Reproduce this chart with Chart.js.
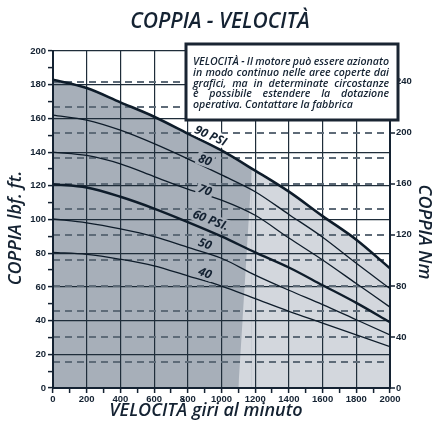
<!DOCTYPE html>
<html lang="it">
<head>
<meta charset="UTF-8">
<title>Coppia - Velocità</title>
<script src="https://cdn.jsdelivr.net/npm/chart.js"></script>
<style>
  html, body { margin: 0; padding: 0; background: #fff; }
</style>
</head>
<body>
<canvas id="grafico" width="433" height="426"></canvas>
<script>
// giri al minuto e coppia (lbf.ft)
var giri   = [0, 200, 400, 600, 800, 1000, 1200, 1400, 1600, 1800, 2000];
var psi90  = [183, 178, 169.5, 161, 151, 141, 129, 116.5, 102, 88, 71];
var psi80  = [162, 159, 153, 145, 136, 126.5, 116.5, 103, 89.5, 74, 59];
var psi70  = [140, 138, 133, 125.5, 118, 111.5, 102.5, 89, 76, 62, 48];
var psi60  = [121, 119, 113.5, 106.5, 98.5, 90, 80.5, 71.5, 61, 50.5, 39];
var psi50  = [100.3, 98, 94.4, 89.8, 83.5, 77, 67, 58, 49.5, 40.5, 31.5];
var psi40  = [80.5, 79.3, 76.4, 72.5, 66.5, 60.5, 53, 45.5, 38.5, 31.5, 24.5];

// zona scura (servizio continuo): bordo inclinato tra 1100 e 1180 giri
var zonaGiri   = [0, 200, 400, 600, 800, 1000, 1180];
var zonaCoppia = [183, 178, 169.5, 161, 151, 141, 130];
var bordoGiri   = [1100, 1180];
var bordoCoppia = [0, 130];

var etichette = ['90 PSI', '80', '70', '60 PSI.', '50', '40'];
var testoNota = [
    'VELOCITÀ - Il motore può essere azionato',
    'in modo continuo nelle aree coperte dai',
    'grafici, ma in determinate circostanze',
    'è possibile estendere la dotazione',
    'operativa. Contattare la fabbrica'
];

var scuro = '#142232';
var grigioScuro = '#a7afb9';
var grigioChiaro = '#d3d7dd';

function punti(xs, ys) {
    return xs.map(function (x, i) { return { x: x, y: ys[i] }; });
}

function curva(ys, spessore) {
    return {
        data: punti(giri, ys),
        borderColor: '#0e1c2a',
        borderWidth: spessore,
        pointRadius: 0,
        fill: false,
        cubicInterpolationMode: 'monotone'
    };
}

var fontTick = { family: 'Liberation Sans', size: 9.5, weight: 'bold' };

// testi, nota e etichette delle curve
var testi = {
    id: 'testi',
    afterDatasetsDraw: function (chart) {
        var ctx = chart.ctx;
        var sx = chart.scales.x, sy = chart.scales.y;
        // ancoraggi delle etichette [giri, coppia, angolo, sfondo]
        var pos = [
            [936, 149.7, 24, '#ffffff'],
            [902, 135.3, 20, grigioScuro],
            [902, 117.5, 20, grigioScuro],
            [936, 99.6, 21, grigioScuro],
            [902, 85.5, 20, grigioScuro],
            [902, 68.2, 20, grigioScuro]
        ];
        ctx.save();
        ctx.font = 'italic 700 12px "Open Sans"';
        ctx.textAlign = 'center';
        ctx.textBaseline = 'middle';
        etichette.forEach(function (t, i) {
            var p = pos[i];
            ctx.save();
            ctx.translate(sx.getPixelForValue(p[0]), sy.getPixelForValue(p[1]));
            ctx.rotate(p[2] * Math.PI / 180);
            var w = ctx.measureText(t).width;
            ctx.fillStyle = p[3];
            ctx.fillRect(-w / 2 - 2, -6.5, w + 4, 13);
            ctx.fillStyle = scuro;
            ctx.fillText(t, 0, 0.5);
            ctx.restore();
        });

        // riquadro nota
        ctx.fillStyle = '#ffffff';
        ctx.fillRect(186, 44, 212, 76);
        ctx.lineWidth = 3;
        ctx.strokeStyle = '#1a2532';
        ctx.strokeRect(186, 44, 212, 76);
        ctx.fillStyle = scuro;
        ctx.font = 'italic 600 10.6px "Open Sans"';
        ctx.textAlign = 'left';
        var x0 = 193, larg = 196;
        var righe = [61.5, 72.5, 83.5, 94, 105];
        testoNota.forEach(function (riga, i) {
            var parole = riga.split(' ');
            if (i === testoNota.length - 1) {
                ctx.fillText(riga, x0, righe[i]);
                return;
            }
            var tot = 0;
            parole.forEach(function (p) { tot += ctx.measureText(p).width; });
            var spazio = (larg - tot) / (parole.length - 1);
            var x = x0;
            parole.forEach(function (p) {
                ctx.fillText(p, x, righe[i]);
                x += ctx.measureText(p).width + spazio;
            });
        });
        ctx.restore();
    },
    afterDraw: function (chart) {
        var ctx = chart.ctx;
        ctx.save();
        ctx.fillStyle = scuro;
        ctx.textAlign = 'center';
        ctx.textBaseline = 'middle';
        ctx.font = 'italic 600 21px "Open Sans"';
        ctx.fillText('COPPIA - VELOCITÀ', 220, 22);
        ctx.font = 'italic 600 18px "Open Sans"';
        ctx.fillText('VELOCITÀ giri al minuto', 206, 411);
        ctx.save();
        ctx.translate(16, 228);
        ctx.rotate(-Math.PI / 2);
        ctx.fillText('COPPIA lbf. ft.', 0, 0);
        ctx.restore();
        ctx.save();
        ctx.translate(424, 232);
        ctx.rotate(Math.PI / 2);
        ctx.fillText('COPPIA Nm', 0, 0);
        ctx.restore();
        ctx.restore();
    }
};

new Chart(document.getElementById('grafico'), {
    type: 'line',
    data: {
        datasets: [
            {
                data: punti(bordoGiri, bordoCoppia),
                borderWidth: 0, pointRadius: 0, tension: 0,
                fill: 'origin', backgroundColor: grigioChiaro
            },
            {
                data: punti(zonaGiri, zonaCoppia),
                borderWidth: 0, pointRadius: 0, tension: 0,
                fill: 'origin', backgroundColor: grigioScuro
            },
            Object.assign(curva(psi90, 2.6), { fill: 'origin', backgroundColor: grigioChiaro }),
            curva(psi80, 1.3),
            curva(psi70, 1.3),
            curva(psi60, 2.4),
            curva(psi50, 1.3),
            curva(psi40, 1.3)
        ]
    },
    options: {
        responsive: false,
        animation: false,
        devicePixelRatio: 1,
        layout: { padding: { top: 51, left: 0, right: 0, bottom: 0 } },
        plugins: {
            legend: { display: false },
            tooltip: { enabled: false },
            filler: { drawTime: 'beforeDraw' }
        },
        scales: {
            x: {
                type: 'linear', min: 0, max: 2000,
                ticks: {
                    stepSize: 100, autoSkip: false, maxRotation: 0, padding: 1,
                    color: scuro, font: fontTick,
                    callback: function (v) { return v % 200 === 0 ? v : ''; }
                },
                grid: {
                    color: function (c) { return c.tick && c.tick.value % 200 === 0 ? '#1f2d3a' : 'transparent'; },
                    lineWidth: 1.2, tickLength: 5, tickColor: scuro, tickWidth: 1.5
                },
                border: { color: scuro, width: 2 },
                afterFit: function (s) { s.height = 38; }
            },
            y: {
                position: 'left', min: 0, max: 200,
                ticks: {
                    stepSize: 10, autoSkip: false, padding: 2,
                    color: scuro, font: fontTick,
                    callback: function (v) { return v % 20 === 0 ? v : ''; }
                },
                grid: {
                    color: function (c) { return c.tick && c.tick.value % 20 === 0 ? '#1f2d3a' : 'transparent'; },
                    lineWidth: 1.2, tickLength: 5, tickColor: scuro, tickWidth: 1.5
                },
                border: { color: scuro, width: 2 },
                afterFit: function (s) { s.width = 53; }
            },
            y2: {
                position: 'right', min: 0, max: 264,
                ticks: {
                    stepSize: 20, autoSkip: false, padding: 1,
                    color: scuro, font: fontTick,
                    callback: function (v) { return v % 40 === 0 ? v : ''; }
                },
                afterBuildTicks: function (s) {
                    s.ticks = s.ticks.filter(function (t) { return t.value <= 240; });
                },
                grid: {
                    color: '#5e6b78', lineWidth: 2,
                    tickLength: 5, tickWidth: 1.5,
                    tickColor: function (c) { return c.tick && c.tick.value % 40 === 0 ? scuro : 'transparent'; }
                },
                border: { color: scuro, width: 2, dash: [7, 5] },
                afterFit: function (s) { s.width = 43; }
            }
        }
    },
    plugins: [testi]
});
</script>
</body>
</html>
